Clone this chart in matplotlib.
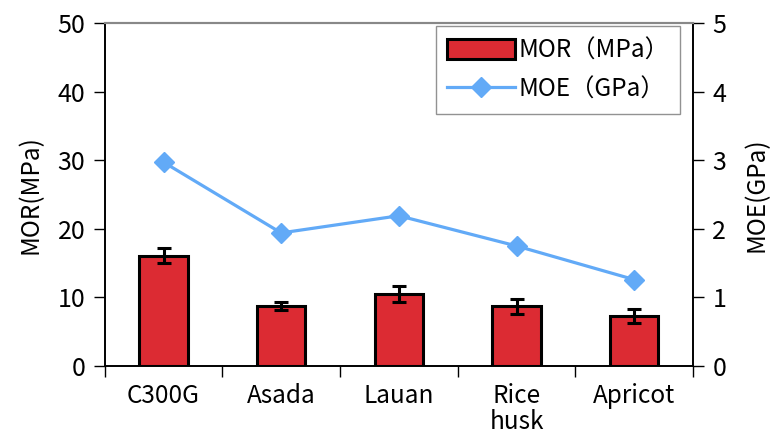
import numpy as np
import matplotlib
matplotlib.use("Agg")
import matplotlib.pyplot as plt
from matplotlib.ticker import FixedLocator

plt.rcParams['font.family'] = ['Noto Sans CJK JP', 'DejaVu Sans']

# data
samples = ["C300G", "Asada", "Lauan", "Rice\nhusk", "Apricot"]
mor = [16.1, 8.75, 10.5, 8.7, 7.3]
mor_err = [1.1, 0.65, 1.1, 1.05, 1.0]
moe = [2.97, 1.94, 2.19, 1.75, 1.26]

bar_col = "#DC2B33"
line_col = "#62AAF7"

fig = plt.figure(figsize=(7.7, 4.4), dpi=100)
ax = fig.add_axes([0.136, 0.168, 0.764, 0.780])
x = np.arange(len(samples))

ax.bar(x, mor, width=0.41, color=bar_col, edgecolor="black", linewidth=2.2,
       label="MOR（MPa）", zorder=2)
ax.errorbar(x, mor, yerr=mor_err, fmt="none", ecolor="black", elinewidth=2.2,
            capsize=5, capthick=2.2, zorder=3)

ax.set_xlim(-0.5, len(samples) - 0.5)
ax.set_ylim(0, 50)
ax.set_yticks(np.arange(0, 51, 10))
ax.set_xticks(x)
ax.set_xticklabels(samples, fontsize=17.5, linespacing=1.0)
ax.xaxis.set_minor_locator(FixedLocator(np.arange(-0.5, len(samples), 1.0)))
ax.tick_params(axis="x", which="major", length=0, pad=12)
ax.tick_params(axis="x", which="minor", length=8, width=1, direction="out")
ax.tick_params(axis="y", length=8, width=1, direction="out", labelsize=18, pad=6)
ax.set_ylabel("MOR(MPa)", fontsize=17.5, labelpad=10)

ax2 = ax.twinx()
ax2.plot(x, moe, color=line_col, linewidth=2.3, marker="D", markersize=10,
         label="MOE（GPa）", zorder=4)
ax2.set_ylim(0, 5)
ax2.set_yticks(np.arange(0, 6, 1))
ax2.tick_params(axis="y", length=8, width=1, direction="out", labelsize=18, pad=6)
ax2.set_ylabel("MOE(GPa)", fontsize=17.5, labelpad=12)

for a in (ax, ax2):
    a.spines["top"].set_color("#888888")
    a.spines["top"].set_linewidth(1.5)
    a.spines["left"].set_linewidth(1.2)
    a.spines["right"].set_linewidth(1.2)
    a.spines["bottom"].set_linewidth(1.2)

h1, l1 = ax.get_legend_handles_labels()
h2, l2 = ax2.get_legend_handles_labels()
leg = ax2.legend(h1 + h2, l1 + l2, loc="upper right", bbox_to_anchor=(0.978, 0.99),
                 fontsize=17.5, frameon=True, fancybox=False, edgecolor="#777777",
                 handlelength=2.8, handleheight=0.9, handletextpad=0.15,
                 borderpad=0.45, labelspacing=0.55, borderaxespad=0.0)
leg.get_frame().set_linewidth(1.0)

fig.savefig("out.png", dpi=100)
